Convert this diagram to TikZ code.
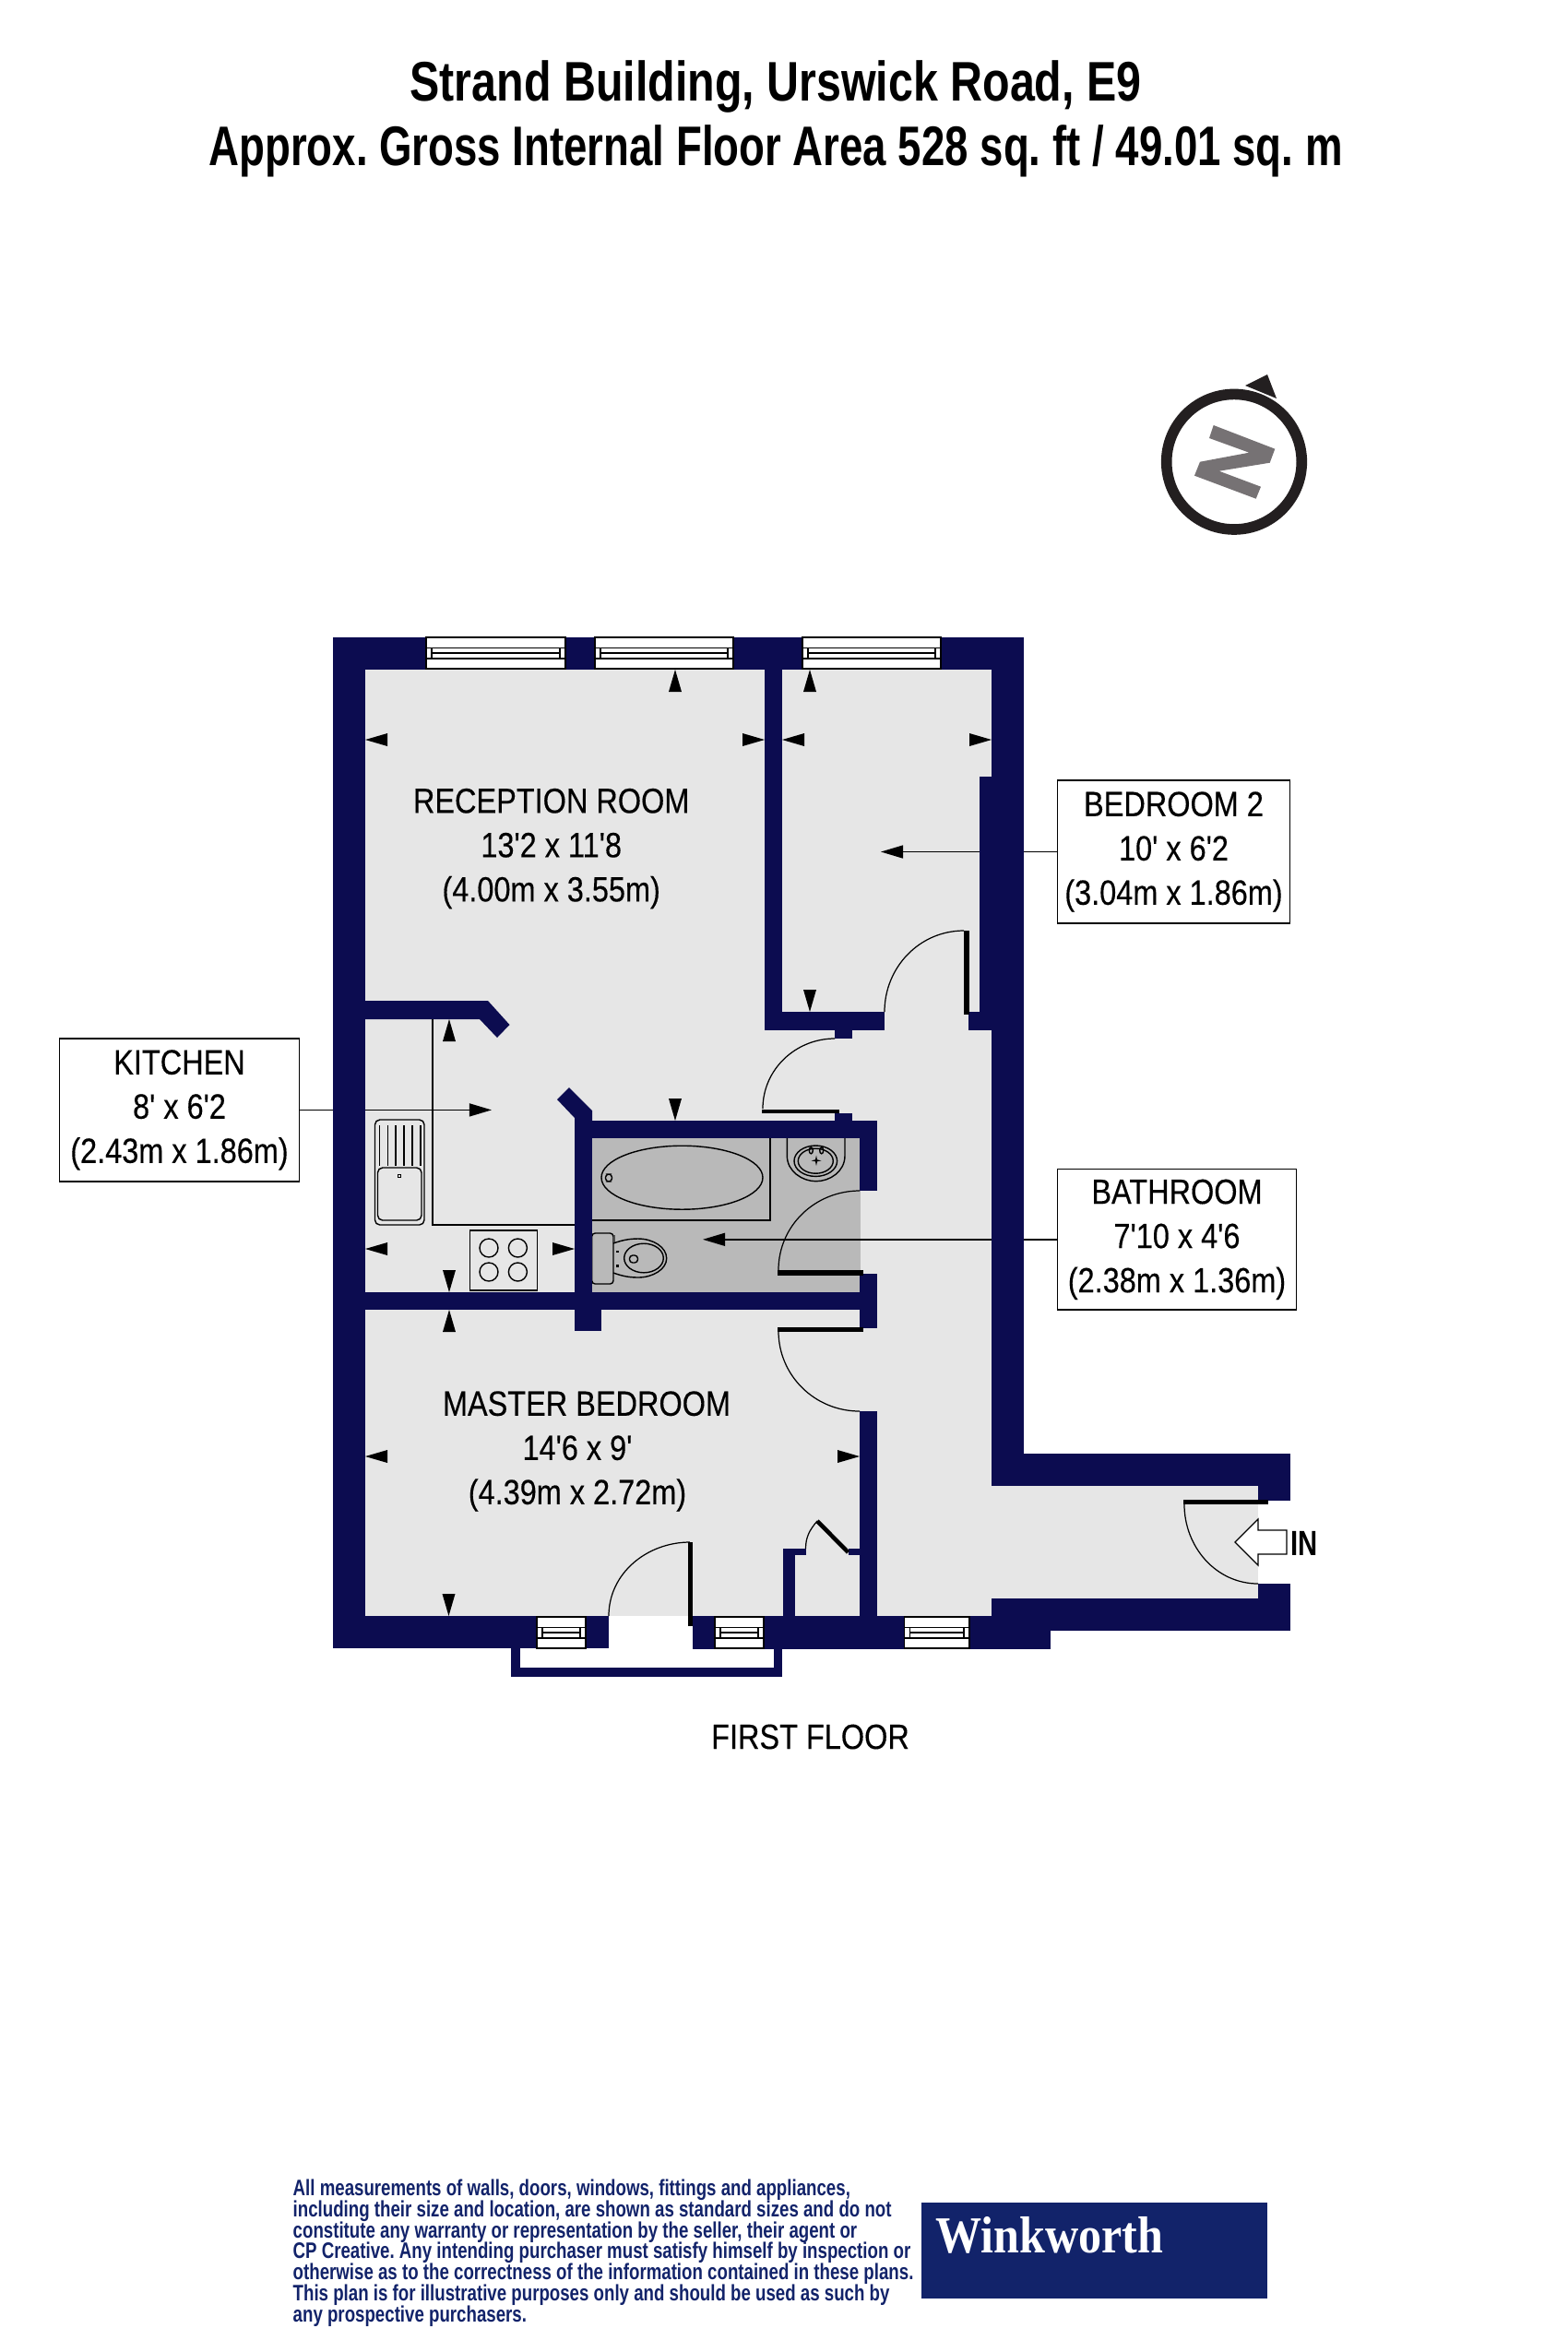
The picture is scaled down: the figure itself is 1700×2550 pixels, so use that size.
\documentclass[tikz,border=0pt]{standalone}
\usepackage{fontspec}
\usetikzlibrary{arrows.meta}
\newfontfamily\planfont{Liberation Sans}[FakeStretch=0.855, FakeBold=0.25]
\newfontfamily\headfont{Liberation Sans}[FakeStretch=0.80]
\newfontfamily\subheadfont{Liberation Sans}[FakeStretch=0.754]
\newfontfamily\smallfont{Liberation Sans}[FakeStretch=0.77]
\newfontfamily\brandfont{Liberation Serif}[FakeStretch=0.89]
\definecolor{wallnavy}{HTML}{0C0C50}
\definecolor{floorgrey}{HTML}{E6E6E6}
\definecolor{bathgrey}{HTML}{B9B9B9}
\definecolor{brandnavy}{HTML}{12236A}
\definecolor{ringblack}{HTML}{231F20}
\definecolor{needlegrey}{HTML}{767274}
\tikzset{
	wall/.style={fill=wallnavy},
	fixture/.style={draw=black, line width=0.4pt},
	swing/.style={draw=black, line width=0.35pt},
	roomlabel/.style={align=center, inner sep=0pt, font=\planfont\fontsize{10.8}{13.65}\selectfont},
	roomtag/.style={roomlabel, draw=black, line width=0.4pt, fill=white, execute at begin node={\rule{0pt}{9.4pt}}},
	% windows are white with three glazing lines
	glazing/.style={draw=black, line width=0.4pt}
}

\begin{document}
\begin{tikzpicture}[x=0.01cm, y=-0.01cm]
	\useasboundingbox (0,0) rectangle (1700,2550);

	\node (title) [align=center, inner sep=0pt, font=\frenchspacing\headfont\bfseries\fontsize{17.2}{19.9}\selectfont] at (841,129) {Strand Building, Urswick Road, E9\\{\subheadfont\bfseries Approx. Gross Internal Floor Area 528 sq. ft / 49.01 sq. m}};

	% compass
	\coordinate (compass) at (1338,500.7);
	\draw[ringblack, line width=3.3pt] (compass) circle [radius=73.3];
	\fill[ringblack] (1350,418) -- (1374,406) -- (1384,432) -- cycle;
	\fill[needlegrey] (1315.7,461) -- (1382.3,486.7) -- (1376.7,501.7) -- (1321.7,510.7) -- (1367,527.7) -- (1361.7,540.7) -- (1295,515.7) -- (1301,500.7) -- (1354.3,490.7) -- (1311,475) -- cycle;

	% floors
	\fill[floorgrey] (361,691) rectangle (1075,1752);
	\fill[floorgrey] (1075,1611) rectangle (1364,1733);
	\fill[bathgrey] (642,1234) rectangle (933,1401);

	% labels with a tag
	\node (kitchen) [roomtag, minimum width=2.604cm, minimum height=1.547cm] at (194.5,1203.4) {KITCHEN\\8' x 6'2\\(2.43m x 1.86m)};
	\node (bedroomtwo) [roomtag, minimum width=2.52cm, minimum height=1.55cm] at (1272.5,923.5) {BEDROOM 2\\10' x 6'2\\(3.04m x 1.86m)};
	\node (bathroom) [roomtag, minimum width=2.592cm, minimum height=1.525cm] at (1276,1343.8) {BATHROOM\\7'10 x 4'6\\(2.38m x 1.36m)};
	\coordinate (kitchentip) at (533,1203.4);
	\coordinate (bedroomtip) at (955,923.5);
	\coordinate (bathroomtip) at (762,1343.8);
	\begin{scope}[black, line width=0.4pt, ->, >={Triangle[length=0.24cm, width=0.14cm]}]
		\draw (kitchen) -- (kitchentip);
		\draw (bedroomtwo) -- (bedroomtip);
		\draw (bathroom) -- (bathroomtip);
	\end{scope}

	% kitchen fittings
	\draw[fixture] (469,1105) -- (469,1328) -- (623,1328);
	\draw[fixture, rounded corners=1.5pt, fill=floorgrey] (406.5,1214) rectangle (460,1328);
	\draw[fixture, rounded corners=1.5pt] (409.5,1266) rectangle (457,1323);
	\foreach \x in {411.5,420.4,429.2,438,447,456}
		\draw[fixture] (\x,1220) -- (\x,1264);
	\draw[fixture] (431.5,1273.5) rectangle (434.5,1276.5);
	\draw[fixture] (509.6,1334) rectangle (582.4,1399);
	\foreach \x in {530,561.4}
		\foreach \y in {1353,1379}
			\draw[fixture] (\x,\y) circle [radius=10];

	% bathroom fittings
	\draw[fixture] (835,1234) -- (835,1323) -- (642,1323);
	\draw[fixture] (739.5,1276.7) ellipse [x radius=87.5, y radius=34.5];
	\draw[fixture, rounded corners=1pt] (656.5,1273) rectangle (663.5,1281);
	\draw[fixture] (853.3,1234) -- (853.3,1253) .. controls (853.3,1270) and (870,1280.7) .. (884.6,1280.7) .. controls (900,1280.7) and (916,1270) .. (916,1253) -- (916,1234);
	\draw[fixture] (884.3,1258.7) ellipse [x radius=23.3, y radius=16.7];
	\draw[fixture] (884.3,1258.7) ellipse [x radius=19, y radius=13.5];
	\draw[fixture] (879.3,1247.3) ellipse [x radius=2, y radius=3.5];
	\draw[fixture] (890.7,1247.3) ellipse [x radius=2, y radius=3.5];
	\fill[black] (885,1252.5) -- (886,1257.3) -- (890.5,1258.3) -- (886,1259.3) -- (885,1264) -- (884,1259.3) -- (879.5,1258.3) -- (884,1257.3) -- cycle;
	\draw[fixture, rounded corners=1pt] (641.7,1337) rectangle (665,1392);
	\fill[black!70] (665,1339) rectangle (667,1347);
	\draw[fixture] (665,1348) .. controls (672,1345.5) and (680,1343) .. (691.7,1343) .. controls (708,1343) and (722.7,1352) .. (722.7,1364.3) .. controls (722.7,1376) and (708,1385) .. (691.7,1385) .. controls (680,1385) and (672,1382.5) .. (665,1380);
	\draw[fixture] (698,1364) ellipse [x radius=21.3, y radius=15.8];
	\draw[fixture, rounded corners=1pt] (682.5,1361) rectangle (691.5,1369);
	\fill[black] (668,1355.5) rectangle (670.5,1358);
	\fill[black] (668,1371) rectangle (670.5,1373.5);

	% walls
	\foreach \xa/\ya/\xb/\yb in {361/691/396/1787, 361/691/1110/726, 1075/691/1110/1611, 1062/842/1075/1117,
		829/726/848/1117, 829/1097/959/1117, 1050/1097/1075/1117, 905/1117/924/1126, 905/1207/924/1215,
		623/1212/642/1443, 623/1420/652/1443, 642/1215/951/1234, 932/1215/951/1291, 932/1381/951/1440,
		396/1401/951/1420, 932/1530/951/1752, 849/1679/862/1752, 849/1679/873.5/1686, 919.5/1679/932/1686,
		361/1752/660/1787, 751/1752/1139/1788, 1075/1576/1399/1611, 1364/1611/1399/1627,
		1075/1733/1399/1768, 1364/1717/1399/1733, 554/1787/564/1818, 839/1787/848/1818, 554/1808/848/1818}
		\fill[wall] (\xa,\ya) rectangle (\xb,\yb);
	\fill[wall] (396,1085) -- (529,1085) -- (552.5,1111) -- (539,1125) -- (520,1105) -- (396,1105) -- cycle;
	\fill[wall] (617,1179) -- (642,1204) -- (642,1216) -- (623,1216) -- (623,1212) -- (604,1192) -- cycle;

	% windows
	\foreach \xa/\xb/\ya in {462/613/691, 645/795/691, 870/1020/691, 582/635/1753, 775/828/1753, 980.5/1051/1753} {
		\fill[white] (\xa,\ya) rectangle (\xb,\ya+34);
		\draw[glazing] (\xa,\ya) rectangle (\xb,\ya+34);
		\draw[glazing] (\xa,\ya+11.5) -- (\xb,\ya+11.5);
		\draw[glazing] (\xa,\ya+23) -- (\xb,\ya+23);
		\draw[glazing] (\xa+6,\ya+11.5) -- (\xa+6,\ya+23);
		\draw[glazing] (\xb-6,\ya+11.5) -- (\xb-6,\ya+23);
		\draw[glazing] (\xa+6,\ya+17) -- (\xb-6,\ya+17);
	}

	% doors
	\foreach \xa/\ya/\xb/\yb in {1045/1009/1051/1100, 826/1203/910/1207, 843/1377/935.5/1383, 843/1439/935.5/1444, 746/1672/751/1763, 1283/1626/1375/1631}
		\fill[black] (\xa,\ya) rectangle (\xb,\yb);
	\draw[black, line width=1.3pt] (886,1649) -- (919.5,1683);
	\draw[swing] (959,1097) to[out=90, in=180] (1045,1009);
	\draw[swing] (905,1126) to[out=180, in=90] (827,1202);
	\draw[swing] (932,1291) to[out=180, in=90] (844,1377);
	\draw[swing] (844,1443) to[out=-90, in=180] (932,1530);
	\draw[swing] (660,1752) to[out=90, in=180] (748,1672);
	\draw[swing] (873.5,1679) to[out=90, in=230] (886,1649);
	\draw[swing] (1284,1631) to[out=-90, in=180] (1364,1717);

	% measuring points
	\foreach \x/\y/\a in {732/726/-90, 878/726/-90, 487/1105/-90, 487/1420/-90,
		878/1097/90, 732/1215/90, 487/1401/90, 486.5/1752/90,
		396/802/0, 848/802/0, 396/1354/0, 396/1579/0,
		829/802/180, 1075/802/180, 623/1354/180, 932/1579/180}
		\fill[black, shift={(\x,\y)}, rotate=\a] (0,0) -- (24,7) -- (24,-7) -- cycle;

	\node (reception) [roomlabel] at (597.7,920) {RECEPTION ROOM\\13'2 x 11'8\\(4.00m x 3.55m)};
	\node (master) [roomlabel] at (636,1573.5) {MASTER BEDROOM\\14'6 x 9'\rule{0.2cm}{0pt}\\(4.39m x 2.72m)\hspace*{0.2cm}};
	\node (floorname) [roomlabel] at (878.5,1883) {FIRST FLOOR};

	% entrance
	\draw[black, fill=white, line width=0.35pt] (1339,1672) -- (1364,1647) -- (1364,1659) -- (1395,1659) -- (1395,1685) -- (1364,1685) -- (1364,1697) -- cycle;
	\node (way) [roomlabel, anchor=west, font=\smallfont\bfseries\fontsize{10.8}{13.65}\selectfont] at (1399,1673) {IN};

	% footer
	\node (note) [anchor=north west, align=left, inner sep=0pt, text=brandnavy, font=\frenchspacing\smallfont\bfseries\fontsize{6.9}{6.5}\selectfont] at (317,2362) {All measurements of walls, doors, windows, fittings and appliances,\\including their size and location, are shown as standard sizes and do not\\constitute any warranty or representation by the seller, their agent or\\CP Creative. Any intending purchaser must satisfy himself by inspection or\\otherwise as to the correctness of the information contained in these plans.\\This plan is for illustrative purposes only and should be used as such by\\any prospective purchasers.};
	\fill[brandnavy] (999,2388) rectangle (1374,2492);
	\node (brand) [anchor=base west, inner sep=0pt, text=white, font=\brandfont\bfseries\fontsize{16}{18}\selectfont] at (1014,2442) {Winkworth};
\end{tikzpicture}
\end{document}
